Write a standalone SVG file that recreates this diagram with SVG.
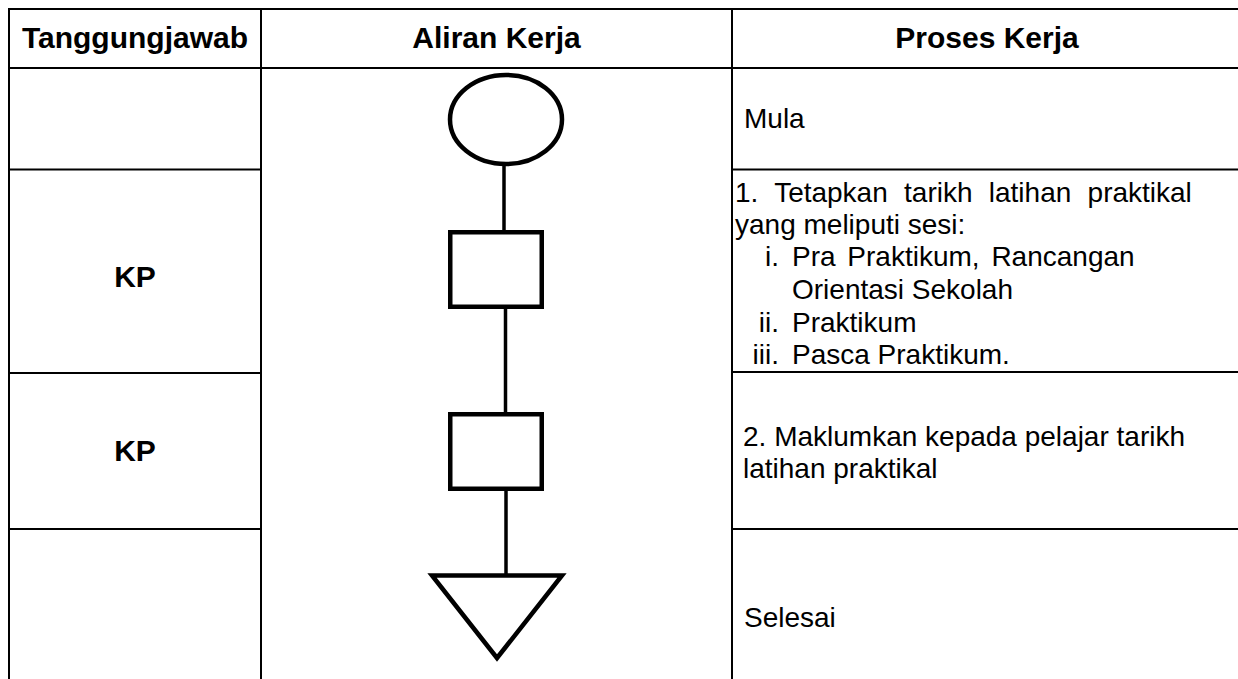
<svg xmlns="http://www.w3.org/2000/svg" width="1238" height="679" viewBox="0 0 1238 679">
<style>
.grid{stroke:#000;stroke-width:2;fill:none}
.shape{fill:#fff;stroke:#000;stroke-width:4.5;stroke-linejoin:miter}
.conn{stroke:#000;stroke-width:3.5;fill:none}
.h{font-family:"Liberation Sans",Arial,sans-serif;font-weight:bold;font-size:30px;fill:#000;text-anchor:middle}
.t{font-family:"Liberation Sans",Arial,sans-serif;font-size:28px;fill:#000}
.e{text-anchor:end}
</style>
<rect width="1238" height="679" fill="#fff"/>
<g id="table">
<line class="grid" x1="8" y1="9" x2="1238" y2="9"/>
<line class="grid" x1="8" y1="68" x2="1238" y2="68"/>
<line class="grid" x1="9" y1="8" x2="9" y2="679"/>
<line class="grid" x1="261" y1="8" x2="261" y2="679"/>
<line class="grid" x1="732" y1="8" x2="732" y2="679"/>
<line class="grid" x1="9" y1="169.5" x2="261" y2="169.5"/>
<line class="grid" x1="732" y1="169.5" x2="1238" y2="169.5"/>
<line class="grid" x1="9" y1="373" x2="261" y2="373"/>
<line class="grid" x1="732" y1="372" x2="1238" y2="372"/>
<line class="grid" x1="9" y1="529" x2="261" y2="529"/>
<line class="grid" x1="732" y1="529" x2="1238" y2="529"/>
<text class="h" x="135" y="48">Tanggungjawab</text>
<text class="h" x="496.5" y="48">Aliran Kerja</text>
<text class="h" x="987" y="48">Proses Kerja</text>
<text class="h" x="135" y="287">KP</text>
<text class="h" x="135" y="461">KP</text>
<text class="t" x="744" y="128">Mula</text>
<text class="t" x="735" y="202" word-spacing="8.5">1. Tetapkan tarikh latihan praktikal</text>
<text class="t" x="735" y="234">yang meliputi sesi:</text>
<text class="t e" x="779" y="266">i.</text>
<text class="t" x="792" y="266" word-spacing="4">Pra Praktikum, Rancangan</text>
<text class="t" x="792" y="299">Orientasi Sekolah</text>
<text class="t e" x="779" y="332">ii.</text>
<text class="t" x="792" y="332">Praktikum</text>
<text class="t e" x="779" y="364">iii.</text>
<text class="t" x="792" y="364">Pasca Praktikum.</text>
<text class="t" x="743" y="446">2. Maklumkan kepada pelajar tarikh</text>
<text class="t" x="743" y="478">latihan praktikal</text>
<text class="t" x="744" y="627">Selesai</text>
</g>
<g id="connectors">
<line class="conn" x1="504" y1="164" x2="504" y2="232"/>
<line class="conn" x1="505.5" y1="307" x2="505.5" y2="414"/>
<line class="conn" x1="506" y1="489" x2="506" y2="576"/>
</g>
<g id="start">
<ellipse class="shape" cx="506" cy="119.5" rx="56" ry="44.5"/>
</g>
<g id="step1">
<rect class="shape" x="450.25" y="232.25" width="91.5" height="74.5"/>
</g>
<g id="step2">
<rect class="shape" x="450.25" y="414.25" width="91.5" height="74.5"/>
</g>
<g id="end">
<polygon class="shape" points="432,575.5 562,575.5 497,658"/>
</g>
</svg>
